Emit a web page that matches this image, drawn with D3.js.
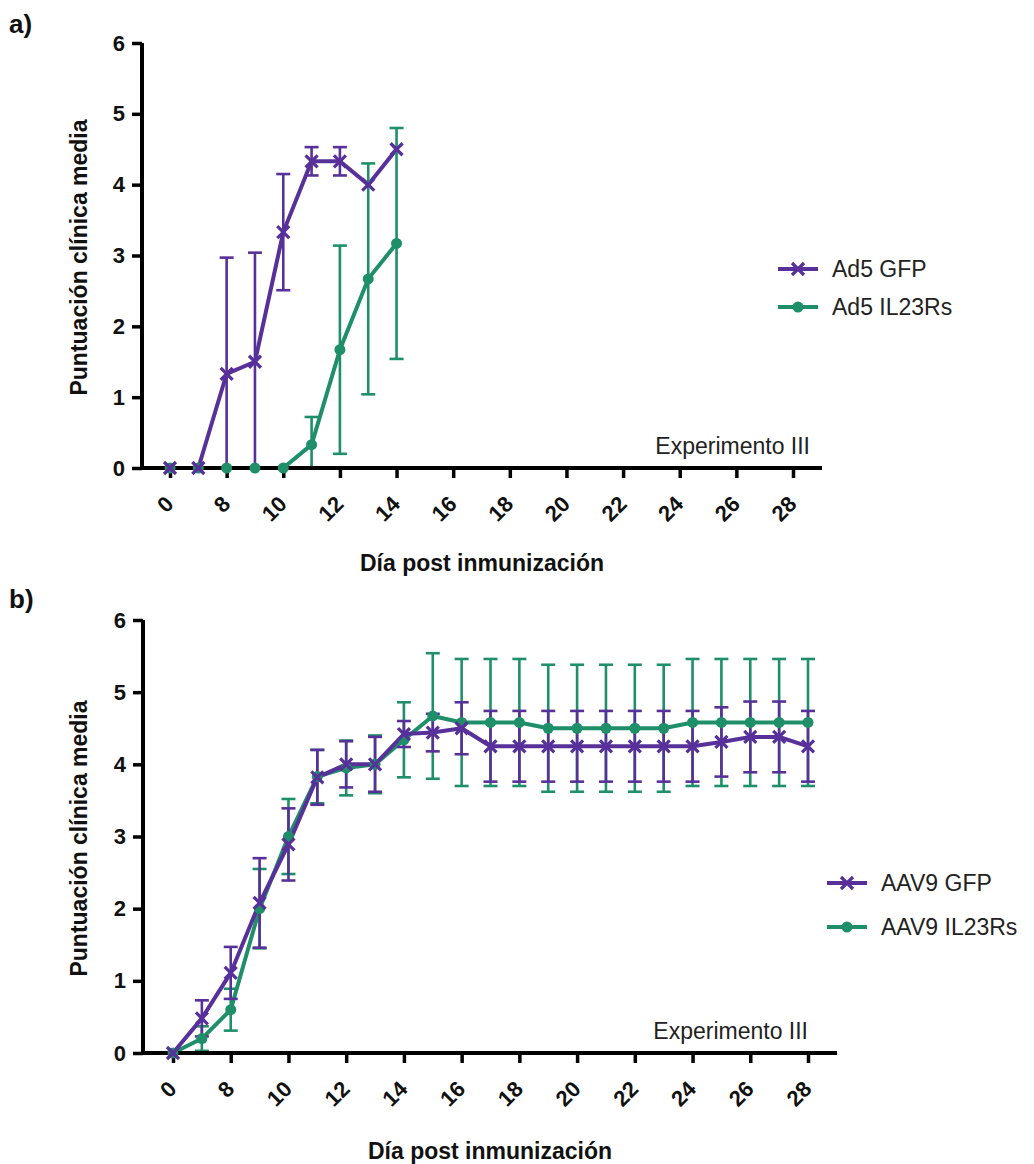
<!DOCTYPE html>
<html>
<head>
<meta charset="utf-8">
<script src="https://cdn.jsdelivr.net/npm/d3@7"></script>
<style>
  html, body { margin: 0; padding: 0; background: #fff; }
  svg { display: block; font-family: "Liberation Sans", Arial, sans-serif; }
</style>
</head>
<body>
<svg id="fig" width="1034" height="1164"></svg>
<script>
// Day categories on the x axis (day 0 sits one slot before day 7)
const dayCategories = ["0","7","8","9","10","11","12","13","14","15","16","17","18","19","20","21","22","23","24","25","26","27","28"];
const xTickLabels = ["0","8","10","12","14","16","18","20","22","24","26","28"];
const yTickValues = [0, 1, 2, 3, 4, 5, 6];

// Panel a) — adenovirus vectors, days 0..14
const daysA = ["0","7","8","9","10","11","12","13","14"];
const ad5GfpMean = [0, 0, 1.33, 1.5, 3.33, 4.33, 4.33, 4.0, 4.5];
const ad5GfpSd   = [0, 0, 1.64, 1.54, 0.82, 0.2, 0.2, 0, 0];
const ad5Il23Mean = [0, 0, 0, 0, 0, 0.33, 1.67, 2.67, 3.17];
const ad5Il23Sd   = [0, 0, 0, 0, 0, 0.39, 1.47, 1.63, 1.63];

// Panel b) — AAV9 vectors, days 0..28
const daysB = dayCategories;
const aav9GfpMean = [0, 0.48, 1.11, 2.08, 2.89, 3.82, 4.0, 4.0, 4.42, 4.44, 4.5, 4.25, 4.25, 4.25, 4.25, 4.25, 4.25, 4.25, 4.25, 4.31, 4.38, 4.38, 4.25];
const aav9GfpSd   = [0, 0.25, 0.36, 0.62, 0.5, 0.38, 0.32, 0.38, 0.18, 0.26, 0.36, 0.49, 0.49, 0.49, 0.49, 0.49, 0.49, 0.49, 0.49, 0.48, 0.49, 0.49, 0.49];
const aav9Il23Mean = [0, 0.2, 0.6, 2.0, 3.0, 3.83, 3.95, 4.0, 4.34, 4.67, 4.58, 4.58, 4.58, 4.5, 4.5, 4.5, 4.5, 4.5, 4.58, 4.58, 4.58, 4.58, 4.58];
const aav9Il23Sd   = [0, 0.17, 0.29, 0.55, 0.52, 0.37, 0.38, 0.4, 0.52, 0.87, 0.88, 0.88, 0.88, 0.88, 0.88, 0.88, 0.88, 0.88, 0.88, 0.88, 0.88, 0.88, 0.88];

const PURPLE = "#57309a";
const GREEN = "#1e8f68";

const svg = d3.select("#fig");

function zip(days, mean, sd) {
  return days.map((d, i) => ({ day: d, mean: mean[i], sd: sd[i] }));
}

function drawPanel(cfg) {
  const g = svg.append("g");
  const x = d3.scalePoint().domain(dayCategories).range([cfg.x0, cfg.x28]);
  const y = d3.scaleLinear().domain([0, 6]).range([cfg.yBottom, cfg.yTop]);
  const byLine = cfg.lineOrder.map(i => cfg.series[i]);
  const byMarker = cfg.markerOrder.map(i => cfg.series[i]);

  // error bars + connecting lines
  byLine.forEach(s => {
    const data = zip(s.days, s.mean, s.sd);
    const eb = g.append("g").attr("stroke", s.color).attr("stroke-width", 2.6).attr("fill", "none");
    data.filter(d => d.sd > 0).forEach(d => {
      const cx = x(d.day);
      const hi = d.mean + d.sd;
      const lo = Math.max(0, d.mean - d.sd);
      eb.append("line").attr("x1", cx).attr("x2", cx).attr("y1", y(hi)).attr("y2", y(lo));
      eb.append("line").attr("x1", cx - 7).attr("x2", cx + 7).attr("y1", y(hi)).attr("y2", y(hi));
      eb.append("line").attr("x1", cx - 7).attr("x2", cx + 7).attr("y1", y(lo)).attr("y2", y(lo));
    });
    g.append("path")
      .datum(data)
      .attr("fill", "none")
      .attr("stroke", s.color)
      .attr("stroke-width", 4)
      .attr("stroke-linejoin", "round")
      .attr("d", d3.line().x(d => x(d.day)).y(d => y(d.mean)));
  });

  // axes
  const xAxis = d3.axisBottom(x).tickValues(xTickLabels).tickSize(10).tickSizeOuter(0);
  const gx = g.append("g").attr("transform", `translate(0,${cfg.yBottom})`).call(xAxis);
  gx.select(".domain").attr("d", `M${cfg.yAxisX},0H${cfg.xEnd}`);
  const yAxis = d3.axisLeft(y).tickValues(yTickValues).tickFormat(d3.format("d"))
    .tickSize(10).tickSizeOuter(0).tickPadding(7);
  const gy = g.append("g").attr("transform", `translate(${cfg.yAxisX},0)`).call(yAxis);
  gy.select(".domain").attr("d", `M0,${cfg.yTop}V${cfg.yBottom}`);

  [gx, gy].forEach(a => {
    a.select(".domain").attr("stroke", "#000").attr("stroke-width", 4);
    a.selectAll(".tick line").attr("stroke", "#000").attr("stroke-width", 3.5);
    a.selectAll(".tick text").attr("fill", "#111").style("font-size", "22px").style("font-weight", "bold");
  });
  gx.selectAll(".tick text")
    .attr("text-anchor", "end")
    .attr("x", 0).attr("y", 0).attr("dy", "0.35em")
    .attr("transform", "translate(-1,32) rotate(-45)");

  // markers
  byMarker.forEach(s => {
    const data = zip(s.days, s.mean, s.sd);
    const m = g.append("g");
    data.forEach(d => drawMarker(m, s.shape, x(d.day), y(d.mean), s.color));
  });

  // titles
  g.append("text")
    .attr("transform", `translate(${cfg.yTitleX},${(cfg.yTop + cfg.yBottom) / 2 + 2}) rotate(-90)`)
    .attr("text-anchor", "middle")
    .style("font-size", "23px").style("font-weight", "bold").attr("fill", "#111")
    .text("Puntuación clínica media");
  g.append("text")
    .attr("x", cfg.xTitleX).attr("y", cfg.xTitleY)
    .attr("text-anchor", "middle")
    .style("font-size", "23px").style("font-weight", "bold").attr("fill", "#111")
    .text("Día post inmunización");
  g.append("text")
    .attr("x", cfg.expX).attr("y", cfg.expY)
    .attr("text-anchor", "end")
    .style("font-size", "23px").attr("fill", "#222")
    .text("Experimento III");
  g.append("text")
    .attr("x", 9).attr("y", cfg.labelY)
    .style("font-size", "26px").style("font-weight", "bold").attr("fill", "#111")
    .text(cfg.label);

  // legend
  cfg.series.forEach((s, i) => {
    const ly = cfg.legendY + i * cfg.legendGap;
    g.append("line")
      .attr("x1", cfg.legendX).attr("x2", cfg.legendX + 40)
      .attr("y1", ly).attr("y2", ly)
      .attr("stroke", s.color).attr("stroke-width", 4);
    drawMarker(g, s.shape, cfg.legendX + 20, ly, s.color);
    g.append("text")
      .attr("x", cfg.legendX + 54).attr("y", ly)
      .attr("dy", "0.35em")
      .style("font-size", "23px").attr("fill", "#222")
      .text(s.name);
  });
}

function drawMarker(sel, shape, cx, cy, color) {
  if (shape === "cross") {
    const r = 6;
    sel.append("path")
      .attr("d", `M${cx - r},${cy - r}L${cx + r},${cy + r}M${cx - r},${cy + r}L${cx + r},${cy - r}`)
      .attr("stroke", color).attr("stroke-width", 3.2).attr("fill", "none");
  } else {
    sel.append("circle").attr("cx", cx).attr("cy", cy).attr("r", 5.5).attr("fill", color);
  }
}

drawPanel({
  label: "a)", labelY: 33,
  x0: 170, x28: 793, xEnd: 822, yAxisX: 142,
  yTop: 43, yBottom: 468,
  yTitleX: 87, xTitleX: 482, xTitleY: 571,
  expX: 810, expY: 454,
  legendX: 778, legendY: 269, legendGap: 38,
  lineOrder: [0, 1], markerOrder: [1, 0],
  series: [
    { name: "Ad5 GFP", days: daysA, mean: ad5GfpMean, sd: ad5GfpSd, color: PURPLE, shape: "cross" },
    { name: "Ad5 IL23Rs", days: daysA, mean: ad5Il23Mean, sd: ad5Il23Sd, color: GREEN, shape: "circle" }
  ]
});

drawPanel({
  label: "b)", labelY: 608,
  x0: 173, x28: 808, xEnd: 837, yAxisX: 143,
  yTop: 620, yBottom: 1053,
  yTitleX: 87, xTitleX: 490, xTitleY: 1159,
  expX: 808, expY: 1039,
  legendX: 827, legendY: 883, legendGap: 44,
  lineOrder: [1, 0], markerOrder: [1, 0],
  series: [
    { name: "AAV9 GFP", days: daysB, mean: aav9GfpMean, sd: aav9GfpSd, color: PURPLE, shape: "cross" },
    { name: "AAV9 IL23Rs", days: daysB, mean: aav9Il23Mean, sd: aav9Il23Sd, color: GREEN, shape: "circle" }
  ]
});
</script>
</body>
</html>
